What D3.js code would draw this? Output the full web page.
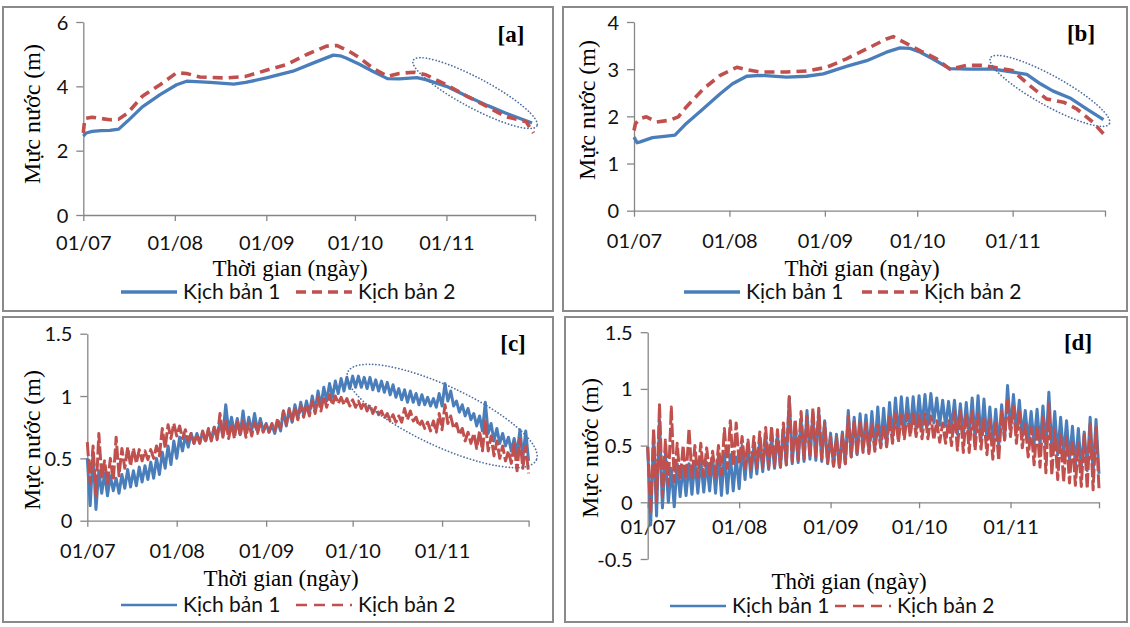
<!DOCTYPE html>
<html>
<head>
<meta charset="utf-8">
<script src="https://cdn.jsdelivr.net/npm/d3@7"></script>
<style>
  body { margin: 0; background: #fff; }
</style>
</head>
<body>
<svg id="chart" width="1130" height="627"></svg>
<script>
// Trục thời gian: số ngày tính từ 01/07
var monthDays = [0, 31, 62, 92, 123, 153];
var monthLabels = ["01/07", "01/08", "01/09", "01/10", "01/11", ""];
var seriesNames = ["Kịch bản 1", "Kịch bản 2"];

// [a] mực nước, đường trơn
var aDays1 = [0, 1, 3, 6, 9, 12, 15, 20, 26, 31.6, 35, 43, 51, 55, 62, 71, 78, 84.7, 87, 89, 93.7, 98, 103, 107, 113, 116, 123, 130, 137, 143, 152];
var aVals1 = [2.45, 2.55, 2.6, 2.62, 2.63, 2.67, 2.92, 3.36, 3.74, 4.05, 4.16, 4.12, 4.07, 4.12, 4.26, 4.47, 4.73, 4.97, 4.95, 4.88, 4.68, 4.47, 4.24, 4.23, 4.27, 4.21, 4.0, 3.69, 3.4, 3.17, 2.86];
var aDays2 = [0, 0.5, 3, 9, 12, 15, 20, 26, 31.6, 35, 39.5, 48.5, 55, 62, 69, 75.7, 82.4, 85.8, 90, 93.7, 98, 103, 107, 112, 116, 123, 130, 137, 143, 150, 152.5];
var aVals2 = [2.55, 3.0, 3.04, 2.96, 2.98, 3.17, 3.69, 4.05, 4.42, 4.4, 4.29, 4.26, 4.31, 4.5, 4.68, 4.99, 5.25, 5.27, 5.09, 4.88, 4.57, 4.31, 4.4, 4.44, 4.36, 4.05, 3.69, 3.36, 3.06, 2.9, 2.55];

// [b]
var bDays1 = [0, 1, 2, 6, 10.6, 13.3, 17, 22.5, 28, 32, 36.6, 41, 49.6, 56, 61.5, 69, 75.6, 82, 86.4, 89.7, 93, 97, 102.6, 109, 116.7, 123, 127.6, 132, 136, 141.6, 147, 152.5];
var bVals1 = [1.56, 1.44, 1.46, 1.55, 1.58, 1.6, 1.85, 2.16, 2.48, 2.69, 2.85, 2.87, 2.83, 2.85, 2.9, 3.06, 3.18, 3.36, 3.45, 3.44, 3.36, 3.22, 3.01, 3.0, 3.0, 2.94, 2.89, 2.69, 2.54, 2.39, 2.16, 1.93];
var bDays2 = [0, 0.5, 2, 4, 7.4, 11.7, 14.4, 17, 22.5, 28, 33.4, 36.6, 41, 49.6, 56, 62.6, 69, 75.6, 82, 84.2, 88.6, 93, 98.3, 102.6, 108, 113.5, 117.8, 123, 128.6, 134, 139.5, 143.8, 149, 152.5];
var bVals2 = [1.7, 1.85, 1.95, 1.99, 1.88, 1.92, 1.99, 2.2, 2.58, 2.87, 3.04, 2.99, 2.94, 2.94, 2.96, 3.04, 3.22, 3.43, 3.64, 3.69, 3.54, 3.39, 3.22, 3.0, 3.08, 3.08, 3.03, 2.97, 2.65, 2.37, 2.3, 2.16, 1.88, 1.63];

// [c], [d]: đỉnh và chân dao động triều, mỗi 2 ngày (ngày 0, 2, ..., 152)
var cHi1 = [0.50, 0.55, 0.40, 0.38, 0.36, 0.34, 0.37, 0.41, 0.40, 0.43,
            0.44, 0.47, 0.50, 0.55, 0.60, 0.64, 0.67, 0.68, 0.70, 0.70,
            0.71, 0.73, 0.75, 0.80, 0.93, 0.83, 0.82, 0.88, 0.83, 0.86,
            0.82, 0.78, 0.77, 0.80, 0.88, 0.90, 0.93, 0.95, 0.96, 1.00,
            1.04, 1.07, 1.10, 1.12, 1.14, 1.15, 1.16, 1.16, 1.15, 1.15,
            1.13, 1.12, 1.11, 1.09, 1.06, 1.05, 1.04, 1.02, 1.01, 0.99,
            0.98, 1.02, 1.10, 1.04, 0.96, 0.93, 0.90, 0.86, 0.84, 0.95,
            0.78, 0.74, 0.70, 0.67, 0.66, 0.73, 0.72];
var cLo1 = [0.12, 0.09, 0.22, 0.20, 0.24, 0.22, 0.26, 0.27, 0.28, 0.31,
            0.33, 0.34, 0.37, 0.42, 0.45, 0.50, 0.56, 0.59, 0.62, 0.63,
            0.64, 0.65, 0.66, 0.68, 0.72, 0.70, 0.69, 0.70, 0.72, 0.72,
            0.72, 0.71, 0.70, 0.72, 0.76, 0.79, 0.82, 0.85, 0.86, 0.88,
            0.92, 0.96, 0.99, 1.02, 1.04, 1.06, 1.07, 1.07, 1.06, 1.05,
            1.04, 1.03, 1.01, 0.99, 0.97, 0.95, 0.95, 0.93, 0.93, 0.92,
            0.91, 0.92, 0.96, 0.92, 0.87, 0.84, 0.81, 0.76, 0.72, 0.70,
            0.64, 0.62, 0.60, 0.56, 0.54, 0.50, 0.48];
var cHi2 = [0.63, 0.60, 0.70, 0.48, 0.50, 0.67, 0.58, 0.59, 0.58, 0.57,
            0.56, 0.57, 0.60, 0.74, 0.77, 0.78, 0.76, 0.73, 0.70, 0.69,
            0.72, 0.74, 0.75, 0.86, 0.80, 0.78, 0.81, 0.80, 0.79, 0.79,
            0.78, 0.77, 0.78, 0.82, 0.88, 0.89, 0.91, 0.92, 0.93, 0.96,
            0.99, 1.00, 1.01, 1.00, 0.99, 0.98, 0.97, 0.96, 0.95, 0.93,
            0.91, 0.88, 0.86, 0.85, 0.84, 0.90, 0.88, 0.83, 0.80, 0.79,
            0.80, 0.86, 0.93, 0.84, 0.78, 0.74, 0.71, 0.70, 0.72, 0.80,
            0.68, 0.64, 0.60, 0.56, 0.62, 0.66, 0.60];
var cLo2 = [0.30, 0.20, 0.35, 0.30, 0.32, 0.36, 0.42, 0.44, 0.46, 0.48,
            0.49, 0.50, 0.52, 0.58, 0.66, 0.68, 0.66, 0.64, 0.62, 0.62,
            0.63, 0.64, 0.65, 0.67, 0.66, 0.66, 0.68, 0.67, 0.68, 0.70,
            0.71, 0.71, 0.72, 0.74, 0.77, 0.79, 0.81, 0.83, 0.84, 0.86,
            0.88, 0.91, 0.93, 0.94, 0.93, 0.92, 0.91, 0.90, 0.88, 0.86,
            0.85, 0.82, 0.80, 0.79, 0.79, 0.81, 0.80, 0.76, 0.74, 0.72,
            0.71, 0.73, 0.78, 0.74, 0.69, 0.64, 0.62, 0.58, 0.56, 0.56,
            0.52, 0.50, 0.48, 0.46, 0.40, 0.42, 0.38];

var dHi1 = [0.49, 0.60, 0.73, 0.43, 0.30, 0.34, 0.32, 0.34, 0.36, 0.37,
            0.35, 0.40, 0.42, 0.43, 0.42, 0.40, 0.50, 0.52, 0.50, 0.55,
            0.58, 0.57, 0.60, 0.65, 0.93, 0.70, 0.73, 0.81, 0.78, 0.80,
            0.72, 0.61, 0.60, 0.62, 0.81, 0.75, 0.78, 0.77, 0.80, 0.84,
            0.83, 0.88, 0.92, 0.93, 0.92, 0.93, 0.94, 0.95, 0.96, 0.92,
            0.90, 0.89, 0.90, 0.87, 0.88, 0.92, 0.94, 0.91, 0.84, 0.82,
            0.86, 1.03, 0.95, 0.90, 0.81, 0.80, 0.82, 0.85, 0.97, 0.80,
            0.75, 0.72, 0.67, 0.65, 0.62, 0.75, 0.73];
var dLo1 = [-0.20, -0.12, -0.05, 0.00, -0.04, 0.05, 0.06, 0.07, 0.08, 0.09,
            0.10, 0.08, 0.06, 0.08, 0.10, 0.12, 0.20, 0.22, 0.25, 0.27,
            0.29, 0.30, 0.31, 0.33, 0.34, 0.35, 0.36, 0.38, 0.37, 0.36,
            0.34, 0.32, 0.31, 0.34, 0.40, 0.42, 0.46, 0.45, 0.47, 0.49,
            0.50, 0.56, 0.58, 0.60, 0.62, 0.64, 0.66, 0.68, 0.70, 0.68,
            0.67, 0.65, 0.60, 0.58, 0.58, 0.56, 0.55, 0.55, 0.52, 0.50,
            0.55, 0.64, 0.62, 0.58, 0.54, 0.52, 0.50, 0.48, 0.46, 0.42,
            0.40, 0.37, 0.32, 0.30, 0.28, 0.26, 0.25];
var dHi2 = [0.49, 0.65, 0.86, 0.55, 0.84, 0.52, 0.50, 0.65, 0.50, 0.52,
            0.48, 0.45, 0.50, 0.65, 0.72, 0.70, 0.58, 0.55, 0.58, 0.62,
            0.66, 0.67, 0.64, 0.70, 0.93, 0.73, 0.80, 0.76, 0.83, 0.83,
            0.70, 0.58, 0.57, 0.60, 0.76, 0.72, 0.72, 0.70, 0.69, 0.68,
            0.69, 0.75, 0.78, 0.77, 0.78, 0.78, 0.77, 0.78, 0.76, 0.72,
            0.70, 0.72, 0.80, 0.81, 0.79, 0.80, 0.78, 0.74, 0.73, 0.70,
            0.80, 0.92, 0.85, 0.80, 0.69, 0.66, 0.68, 0.75, 0.87, 0.64,
            0.60, 0.58, 0.55, 0.52, 0.60, 0.69, 0.66];
var dLo2 = [-0.10, 0.00, 0.05, 0.15, 0.18, 0.20, 0.20, 0.22, 0.22, 0.23,
            0.24, 0.22, 0.24, 0.30, 0.32, 0.34, 0.30, 0.29, 0.30, 0.31,
            0.31, 0.32, 0.31, 0.33, 0.36, 0.37, 0.38, 0.40, 0.40, 0.38,
            0.35, 0.32, 0.31, 0.34, 0.40, 0.42, 0.44, 0.43, 0.45, 0.48,
            0.49, 0.52, 0.53, 0.56, 0.58, 0.58, 0.56, 0.56, 0.55, 0.53,
            0.52, 0.50, 0.46, 0.44, 0.44, 0.46, 0.47, 0.42, 0.38, 0.37,
            0.55, 0.58, 0.52, 0.48, 0.40, 0.33, 0.31, 0.26, 0.24, 0.20,
            0.18, 0.17, 0.15, 0.14, 0.12, 0.11, 0.12];

var yTicksA = [0, 2, 4, 6];
var yTicksB = [0, 1, 2, 3, 4];
var yTicksC = [0, 0.5, 1, 1.5];
var yTicksD = [-0.5, 0, 0.5, 1, 1.5];

var blue = "#4a7ebb", red = "#c0504d", axisGray = "#868686";
var svg = d3.select("#chart");

// ghép đỉnh/chân xen kẽ: đỉnh ở ngày 2k, chân ở ngày 2k+1
function tidePoints(hi, lo) {
  var pts = [];
  hi.forEach(function(h, k) {
    pts.push([2 * k, h]);
    pts.push([2 * k + 1, lo[k]]);
  });
  return pts;
}

var panels = [
  { tag: "[a]", box: [3, 7, 553, 311], xr: [83.3, 535], yd: [0, 6], yr: [215, 22], yTicks: yTicksA,
    s1: d3.zip(aDays1, aVals1), s2: d3.zip(aDays2, aVals2), thin: false,
    tagPos: [511, 34], yTitle: [32, 114], xTitle: [290, 269], labOff: 28, legY: 292, legX: [121, 296],
    ell: { c: [132.7, 3.79], rx: 70, ry: 15, rot: 28 } },
  { tag: "[b]", box: [563, 7, 1127, 311], xr: [634, 1105], yd: [0, 4], yr: [210.7, 22], yTicks: yTicksB,
    s1: d3.zip(bDays1, bVals1), s2: d3.zip(bDays2, bVals2), thin: false,
    tagPos: [1081, 33], yTitle: [587, 110], xTitle: [862, 269], labOff: 30, legY: 292, legX: [684, 862],
    ell: { c: [135.1, 2.54], rx: 68, ry: 15, rot: 29 } },
  { tag: "[c]", box: [3, 317, 553, 622], xr: [87.3, 528.6], yd: [0, 1.5], yr: [520.7, 333.7], yTicks: yTicksC,
    s1: tidePoints(cHi1, cLo1), s2: tidePoints(cHi2, cLo2), thin: true,
    tagPos: [513, 343], yTitle: [32, 440], xTitle: [281, 579], labOff: 30, legY: 605, legX: [121, 296],
    ell: { c: [123, 0.84], rx: 104, ry: 30, rot: 25 } },
  { tag: "[d]", box: [565, 317, 1127, 622], xr: [647.7, 1099], yd: [-0.5, 1.5], yr: [559, 332.2], yTicks: yTicksD,
    s1: tidePoints(dHi1, dLo1), s2: tidePoints(dHi2, dLo2), thin: true,
    tagPos: [1078, 342], yTitle: [590, 448], xTitle: [849, 582], labOff: 25, legY: 606, legX: [670, 835],
    ell: null }
];

panels.forEach(function(p) {
  var g = svg.append("g");

  g.append("rect")
    .attr("x", p.box[0]).attr("y", p.box[1])
    .attr("width", p.box[2] - p.box[0]).attr("height", p.box[3] - p.box[1])
    .attr("fill", "none").attr("stroke", "#8a8a8a").attr("stroke-width", 2);

  var x = d3.scaleLinear().domain([0, 153]).range(p.xr);
  var y = d3.scaleLinear().domain(p.yd).range(p.yr);

  // trục
  var gx = g.append("g")
    .attr("transform", "translate(0," + y(0) + ")")
    .call(d3.axisBottom(x).tickValues(monthDays).tickSize(6).tickSizeOuter(0)
      .tickFormat(function(d, i) { return monthLabels[i]; }));
  var gy = g.append("g")
    .attr("transform", "translate(" + p.xr[0] + ",0)")
    .call(d3.axisLeft(y).tickValues(p.yTicks).tickSize(7).tickSizeOuter(0)
      .tickFormat(function(d) { return String(d); }));

  [gx, gy].forEach(function(a) {
    a.select(".domain").attr("stroke", axisGray).attr("stroke-width", 1.3);
    a.selectAll(".tick line").attr("stroke", axisGray).attr("stroke-width", 1.3);
    a.selectAll("text").attr("font-family", "Lato, 'Open Sans', sans-serif")
      .attr("font-size", 20).attr("fill", "#111");
  });
  gx.selectAll("text").attr("y", p.labOff).attr("dy", "0.35em");
  gy.selectAll("text").attr("x", -15).attr("dy", "0.35em");

  // đường số liệu
  var line = d3.line().x(function(d) { return x(d[0]); }).y(function(d) { return y(d[1]); });
  g.append("path").datum(p.s1).attr("d", line)
    .attr("fill", "none").attr("stroke", blue)
    .attr("stroke-width", p.thin ? 3 : 3.3).attr("stroke-linejoin", "round");
  g.append("path").datum(p.s2).attr("d", line)
    .attr("fill", "none").attr("stroke", red)
    .attr("stroke-width", p.thin ? 3 : 3.6)
    .attr("stroke-dasharray", p.thin ? "14,3" : "10,6").attr("stroke-linejoin", "round");

  // vòng chấm đánh dấu
  if (p.ell) {
    var cx = x(p.ell.c[0]), cy = y(p.ell.c[1]);
    g.append("ellipse")
      .attr("cx", cx).attr("cy", cy).attr("rx", p.ell.rx).attr("ry", p.ell.ry)
      .attr("transform", "rotate(" + p.ell.rot + "," + cx + "," + cy + ")")
      .attr("fill", "none").attr("stroke", "#4f6fa0").attr("stroke-width", 1.7)
      .attr("stroke-dasharray", "0.1,3.2").attr("stroke-linecap", "round");
  }

  // nhãn
  g.append("text").attr("x", p.tagPos[0]).attr("y", p.tagPos[1]).attr("dy", "0.35em")
    .attr("text-anchor", "middle").attr("font-family", "'Liberation Serif', serif")
    .attr("font-weight", "bold").attr("font-size", 23).text(p.tag);

  g.append("text")
    .attr("transform", "translate(" + p.yTitle[0] + "," + p.yTitle[1] + ") rotate(-90)")
    .attr("dy", "0.35em").attr("text-anchor", "middle")
    .attr("font-family", "'Liberation Serif', serif").attr("font-size", 24)
    .text("Mực nước (m)");

  g.append("text").attr("x", p.xTitle[0]).attr("y", p.xTitle[1]).attr("dy", "0.32em")
    .attr("text-anchor", "middle").attr("font-family", "'Liberation Serif', serif")
    .attr("font-size", 23).text("Thời gian (ngày)");

  // chú thích
  var lg = g.append("g");
  [0, 1].forEach(function(i) {
    var lx = p.legX[i];
    lg.append("line").attr("x1", lx).attr("x2", lx + 56).attr("y1", p.legY).attr("y2", p.legY)
      .attr("stroke", i === 0 ? blue : red)
      .attr("stroke-width", p.thin ? 2.6 : 3.3)
      .attr("stroke-dasharray", i === 0 ? null : (p.thin ? "11,7" : "10,6"));
    lg.append("text").attr("x", lx + 62).attr("y", p.legY).attr("dy", "0.35em")
      .attr("font-family", "Lato, 'Open Sans', sans-serif").attr("font-size", 21)
      .attr("fill", "#111").text(seriesNames[i]);
  });
});
</script>
</body>
</html>
